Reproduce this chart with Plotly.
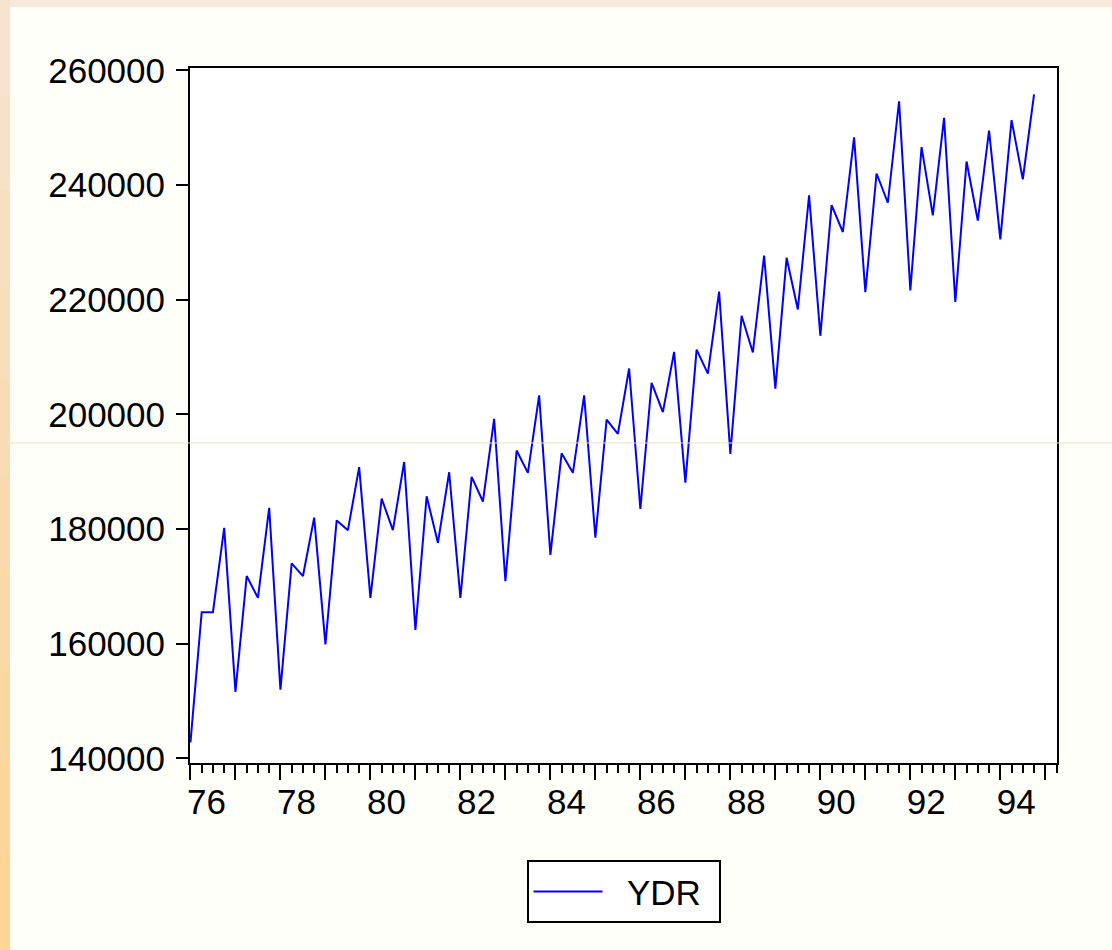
import plotly.graph_objects as go

font_family = 'Liberation Sans, Arial, sans-serif'

# quarterly YDR, 1976Q1 .. 1994Q4
start_year = 76
ydr = [
    142800, 165500, 165500, 180200,   # 76
    151600, 171800, 168000, 183700,   # 77
    152000, 174000, 171800, 182000,   # 78
    159900, 181500, 179800, 190800,   # 79
    168000, 185300, 179800, 191700,   # 80
    162400, 185700, 177600, 189900,   # 81
    168000, 189100, 184800, 199200,   # 82
    170900, 193700, 189800, 203300,   # 83
    175500, 193200, 189800, 203300,   # 84
    178500, 199100, 196600, 208000,   # 85
    183500, 205500, 200400, 210900,   # 86
    188100, 211300, 207100, 221400,   # 87
    193100, 217200, 210800, 227700,   # 88
    204500, 227300, 218300, 238200,   # 89
    213700, 236500, 231800, 248300,   # 90
    221300, 242000, 236900, 254600,   # 91
    221600, 246600, 234700, 251700,   # 92
    219600, 244100, 233800, 249500,   # 93
    230500, 251300, 241000, 255800,   # 94
]
year_ticks = list(range(76, 96))
year_labels = [str(y) if y % 2 == 0 else '' for y in year_ticks]
y_ticks = [140000, 160000, 180000, 200000, 220000, 240000, 260000]
y_labels = [str(v) for v in y_ticks]

quarters = [start_year + i / 4 for i in range(len(ydr))]

fig = go.Figure(
    data=[
        go.Scatter(name='\u00a0\u00a0YDR', x=quarters, y=ydr, mode='lines',
                   line=dict(color='#0000ff', width=2))
    ]
)

fig.update_layout(
    width=1112,
    height=950,
    margin=dict(l=190, r=55, t=68, b=187),
    paper_bgcolor='#fffffa',
    plot_bgcolor='white',
    font=dict(family=font_family, size=35, color='black'),
    showlegend=True,
    legend=dict(
        orientation='h',
        x=0.5, xanchor='center',
        y=-0.14, yanchor='top',
        bordercolor='black',
        borderwidth=2,
        bgcolor='white',
        itemwidth=69,
        entrywidth=106,
        font=dict(size=35),
    ),
)

fig.update_xaxes(
    range=[75.99, 95.26],
    tickmode='array',
    tickvals=year_ticks,
    ticktext=year_labels,
    ticks='outside',
    ticklen=15,
    tickwidth=2,
    tickcolor='black',
    ticklabelshift=16,
    ticklabelstandoff=-8,
    minor=dict(dtick=0.25, tick0=76, ticks='outside', ticklen=8, tickwidth=2, tickcolor='black'),
    showline=True, linecolor='black', linewidth=2, mirror=True,
    showgrid=False, zeroline=False,
)
fig.update_yaxes(
    range=[139200, 260400],
    tickmode='array',
    tickvals=y_ticks,
    ticktext=y_labels,
    ticks='outside',
    ticklen=12,
    tickwidth=2,
    tickcolor='black',
    ticklabelstandoff=4,
    showline=True, linecolor='black', linewidth=2, mirror=True,
    showgrid=False, zeroline=False,
)

# frame decoration: peach strips on the left and top
strip_cols = ['#f7e4d0', '#f7e1c8', '#f7dfc2', '#f8ddbc', '#f9dbb6',
              '#fad9b0', '#fbd8a9', '#fbd7a2', '#fcd69b', '#fdd594']
n = len(strip_cols)
for i, c in enumerate(strip_cols):
    fig.add_shape(type='rect', xref='paper', yref='paper',
                  x0=-190 / 867, x1=-180 / 867,
                  y0=1 + 68 / 695 - (i + 1) * 950 / 695 / n,
                  y1=1 + 68 / 695 - i * 950 / 695 / n,
                  fillcolor=c, line_width=0, layer='below')
fig.add_shape(type='rect', xref='paper', yref='paper',
              x0=-180 / 867, x1=1 + 55 / 867,
              y0=1 + 61 / 695, y1=1 + 68 / 695,
              fillcolor='#f8eadb', line_width=0, layer='below')
fig.add_shape(type='line', xref='paper', yref='paper',
              x0=-180 / 867, x1=1 + 55 / 867,
              y0=(763 - 443) / 695, y1=(763 - 443) / 695,
              line=dict(color='#efdcc4', width=1))

# page margin off so the figure sits at the window corner
fig.write_html('out.html', config={'displayModeBar': False},
               post_script="document.body.style.margin='0';")
